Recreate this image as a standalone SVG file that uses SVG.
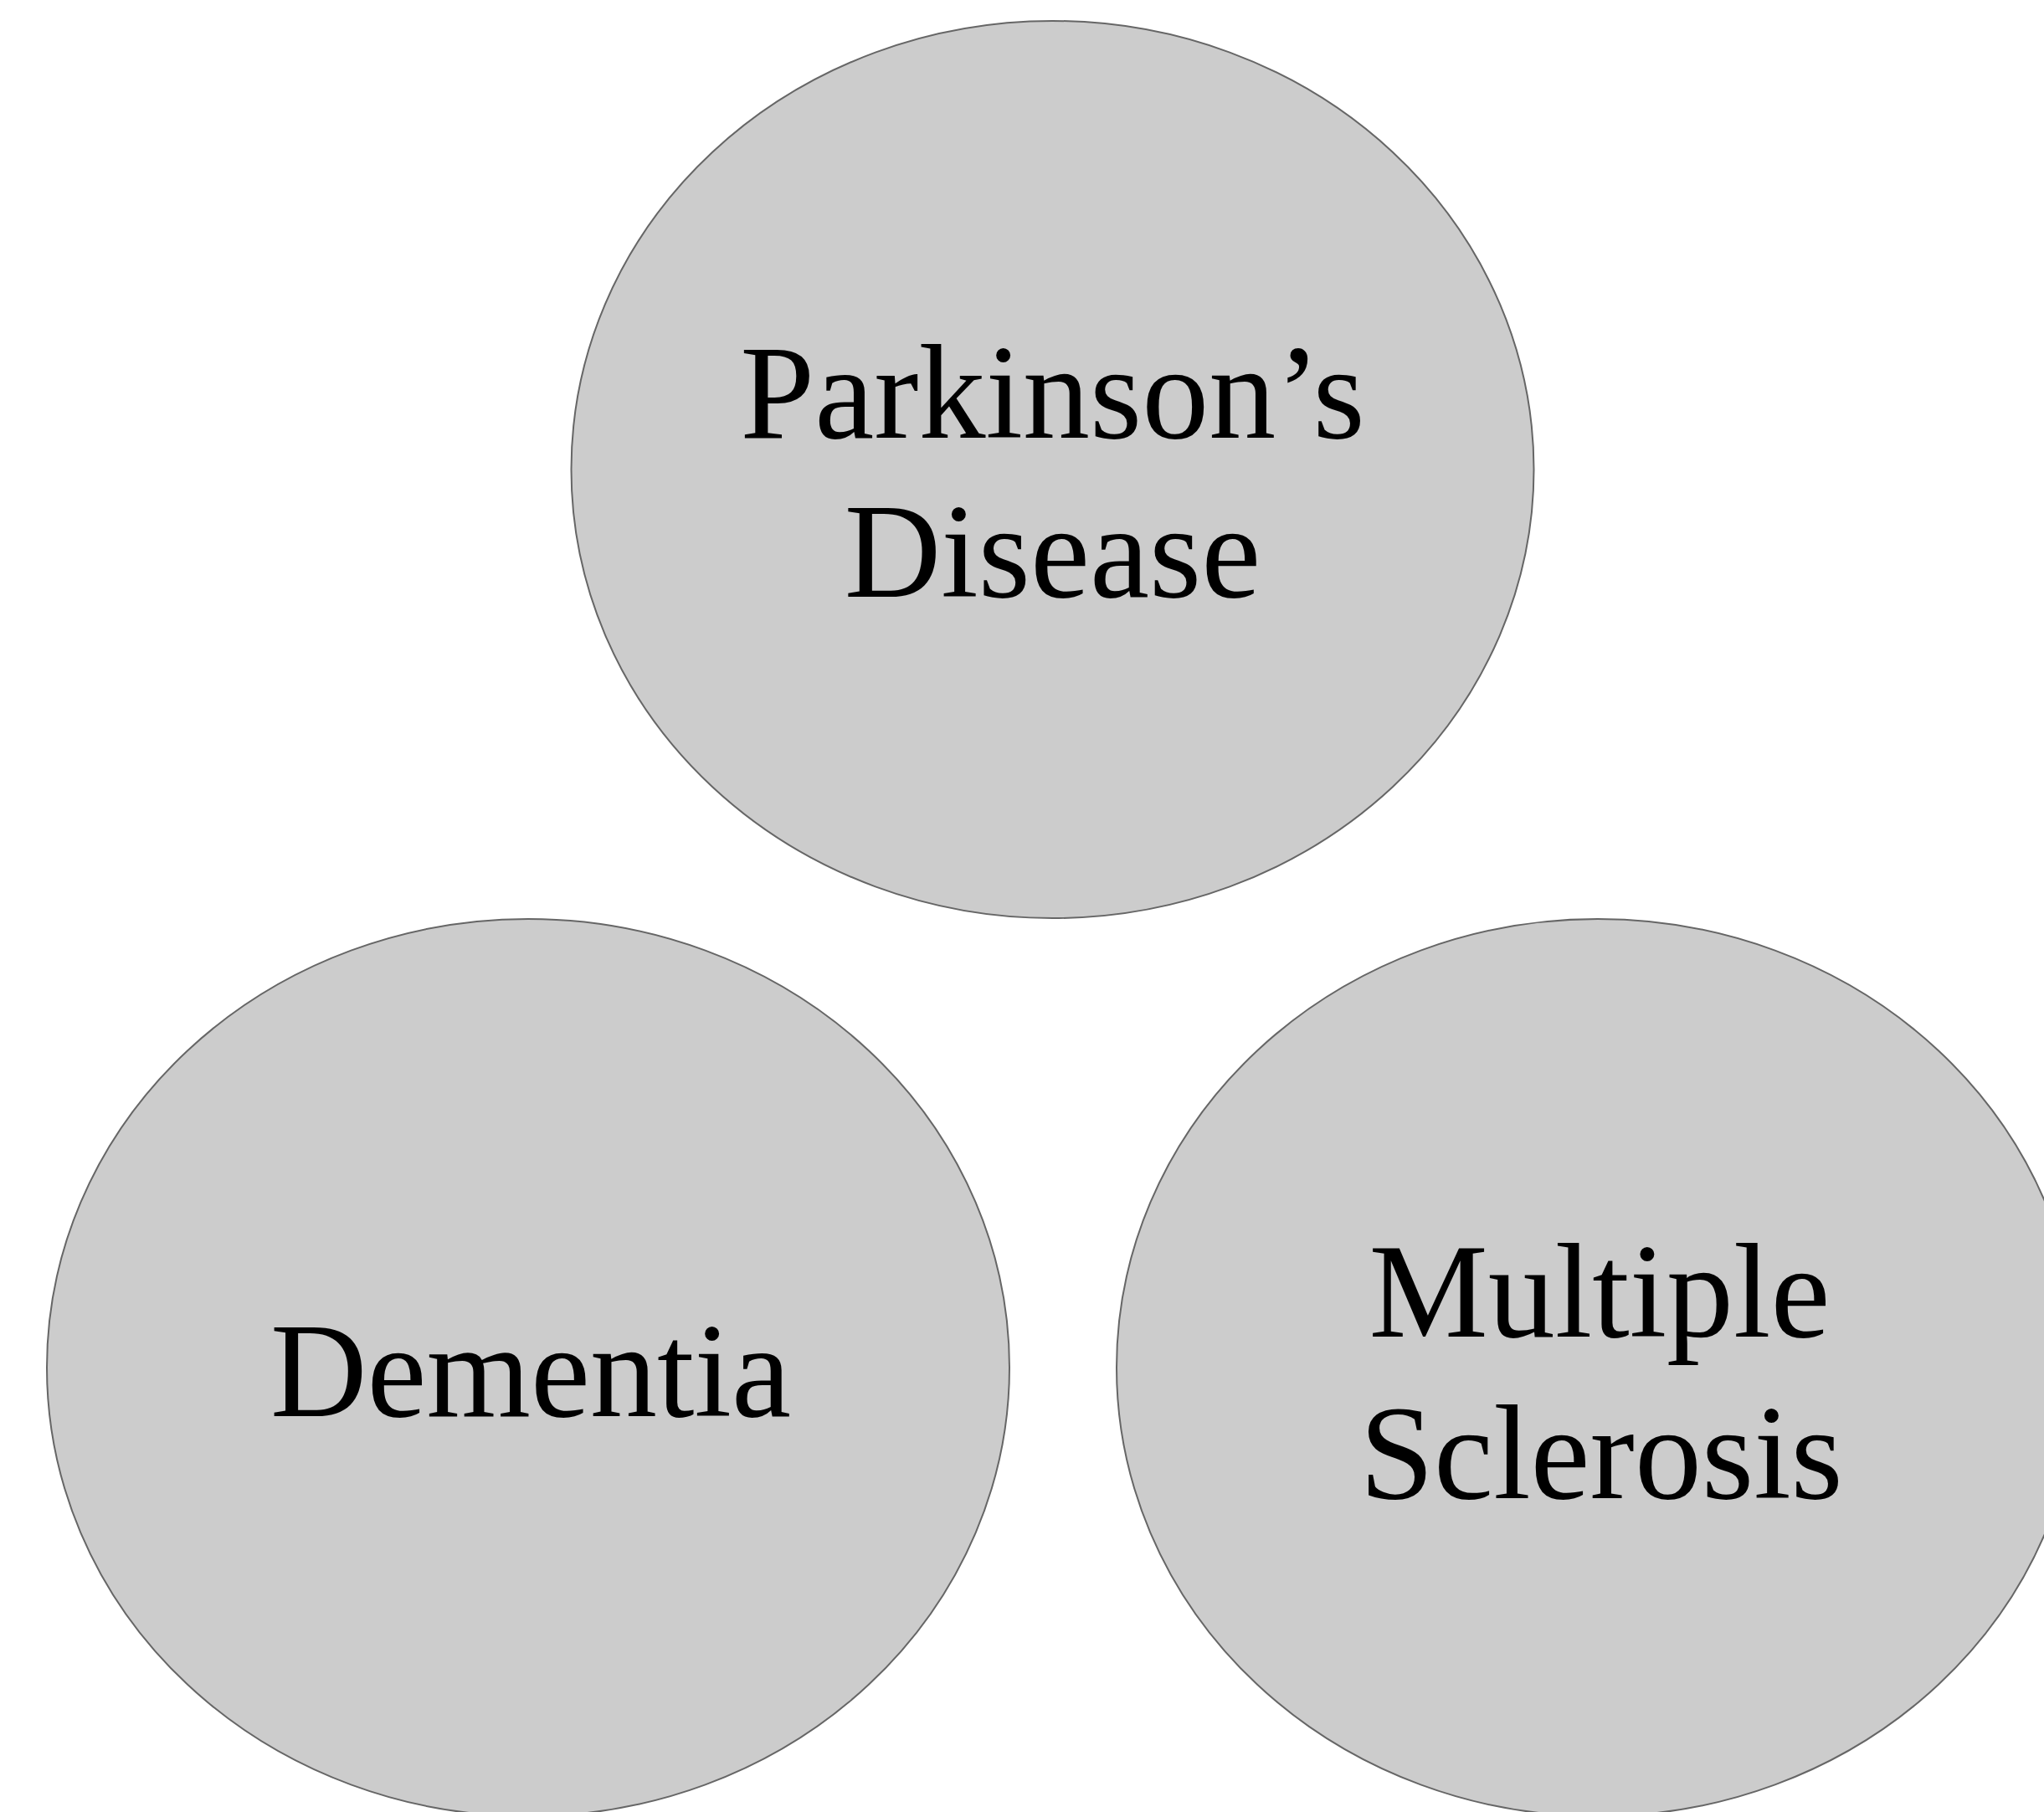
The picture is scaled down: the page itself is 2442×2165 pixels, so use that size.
<svg xmlns="http://www.w3.org/2000/svg" width="2442" height="2165" viewBox="0 0 2442 2165">
<style>
.node ellipse{fill:#cccccc;stroke:#666666;stroke-width:2}
.node text{font-family:"Liberation Serif","Times New Roman",serif;font-size:160px;fill:#000000;text-anchor:middle}
</style>
<rect x="0" y="0" width="2442" height="2165" fill="#ffffff"/>
<g id="connectors"></g>
<g id="node-parkinsons" class="node">
<ellipse cx="1257.5" cy="561" rx="575" ry="536"/>
<text x="1257.5" y="523">Parkinson’s</text>
<text x="1257.5" y="713">Disease</text>
</g>
<g id="node-dementia" class="node">
<ellipse cx="631" cy="1634" rx="575" ry="536"/>
<text x="634" y="1692">Dementia</text>
</g>
<g id="node-ms" class="node">
<ellipse cx="1909" cy="1634" rx="575" ry="536"/>
<text x="1911" y="1597">Multiple</text>
<text x="1913" y="1790">Sclerosis</text>
</g>
</svg>
